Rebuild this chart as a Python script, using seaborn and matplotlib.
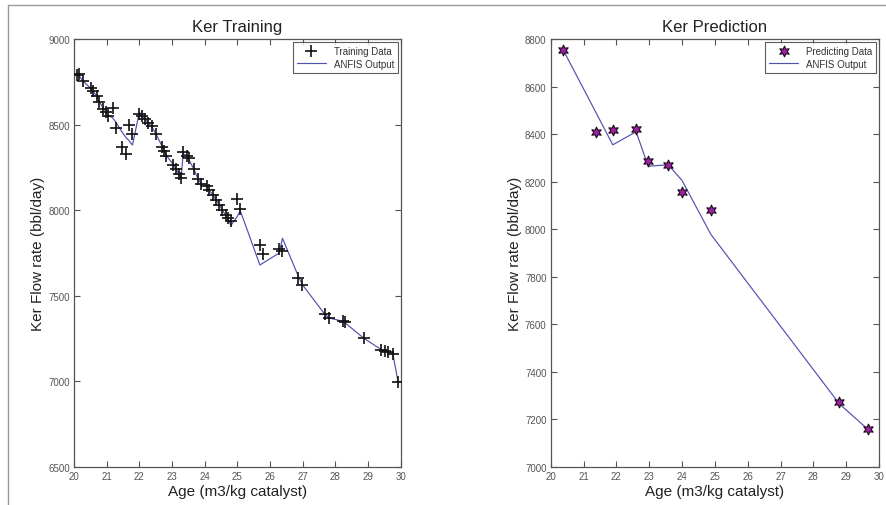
import matplotlib
matplotlib.use("Agg")
import matplotlib.pyplot as plt
from matplotlib.lines import Line2D
import seaborn as sns
import pandas as pd

# ---- Training data (left panel) ----
train_age = [20.08, 20.16, 20.27, 20.51, 20.59, 20.69, 20.77, 20.90, 20.98, 21.05,
             21.18, 21.28, 21.46, 21.59, 21.69, 21.79, 22.00, 22.07, 22.17, 22.27,
             22.38, 22.51, 22.68, 22.75, 22.83, 23.04, 23.12, 23.22, 23.28, 23.34,
             23.45, 23.53, 23.67, 23.80, 23.88, 24.06, 24.14, 24.25, 24.35, 24.45,
             24.54, 24.64, 24.72, 24.80, 25.00, 25.09, 25.69, 25.79, 26.28, 26.38,
             26.86, 26.99, 27.67, 27.81, 28.22, 28.29, 28.87, 29.41, 29.51, 29.61,
             29.76, 29.92]
train_flow = [8790, 8795, 8756, 8712, 8698, 8665, 8630, 8591, 8574, 8552,
              8595, 8478, 8367, 8328, 8498, 8445, 8562, 8552, 8533, 8509,
              8490, 8445, 8372, 8348, 8314, 8265, 8241, 8211, 8186, 8342,
              8318, 8303, 8241, 8180, 8156, 8140, 8118, 8090, 8061, 8033,
              8003, 7972, 7953, 7939, 8068, 8010, 7797, 7744, 7773, 7763,
              7602, 7563, 7394, 7369, 7355, 7345, 7252, 7185, 7179, 7173,
              7160, 6995]
train_anfis = [8790, 8785, 8756, 8712, 8695, 8665, 8635, 8595, 8575, 8555,
               8540, 8515, 8460, 8425, 8405, 8381, 8572, 8555, 8535, 8510,
               8488, 8445, 8380, 8350, 8318, 8268, 8240, 8210, 8185, 8330,
               8320, 8290, 8240, 8182, 8158, 8138, 8116, 8088, 8060, 8032,
               8002, 7970, 7950, 7910, 7965, 7997, 7680, 7692, 7750, 7836,
               7617, 7565, 7394, 7370, 7352, 7343, 7252, 7185, 7180, 7173,
               7160, 6995]

# ---- Prediction data (right panel) ----
pred_age = [20.38, 21.38, 21.89, 22.60, 22.97, 23.58, 24.00, 24.88, 28.79, 29.68]
pred_flow = [8754, 8409, 8416, 8420, 8285, 8271, 8158, 8081, 7273, 7160]
pred_anfis = [8754, 8490, 8355, 8410, 8265, 8271, 8205, 7978, 7266, 7156]

train_xticks = list(range(20, 31))
train_yticks = [6500, 7000, 7500, 8000, 8500, 9000]
pred_yticks = [7000, 7200, 7400, 7600, 7800, 8000, 8200, 8400, 8600, 8800]

sns.set_theme(style="white")
plt.rcParams['font.family'] = ['Liberation Sans', 'DejaVu Sans']

fig = plt.figure(figsize=(8.86, 5.06), dpi=100)
fig.patch.set_facecolor("white")
ax1 = fig.add_axes([0.0835, 0.0751, 0.3688, 0.8458])
ax2 = fig.add_axes([0.6216, 0.0751, 0.3705, 0.8458])

line_col = "#5050b0"

df_t = pd.DataFrame({"age": train_age, "flow": train_flow, "anfis": train_anfis})
df_p = pd.DataFrame({"age": pred_age, "flow": pred_flow, "anfis": pred_anfis})

sns.scatterplot(data=df_t, x="age", y="flow", ax=ax1, marker="+", color="#111111",
                s=85, linewidth=1.2, label="Training Data", zorder=3)
sns.lineplot(data=df_t, x="age", y="anfis", ax=ax1, color=line_col, lw=0.85,
             estimator=None, label="ANFIS Output", zorder=2)

star = (6, 1, 0)
sns.scatterplot(data=df_p, x="age", y="flow", ax=ax2, marker=star, color="#a020a8",
                edgecolor="#1a0a1a", s=60, linewidth=0.8, label="Predicting Data", zorder=3)
sns.lineplot(data=df_p, x="age", y="anfis", ax=ax2, color=line_col, lw=0.85,
             estimator=None, label="ANFIS Output", zorder=2)

def style(ax, title, yticks, ylim):
    ax.set_xlim(20, 30)
    ax.set_ylim(*ylim)
    ax.set_xticks(train_xticks)
    ax.set_yticks(yticks)
    ax.set_title(title, fontsize=12, color="#222222", pad=6)
    ax.set_xlabel("Age (m3/kg catalyst)", fontsize=11, color="#222222", labelpad=2)
    ax.set_ylabel("Ker Flow rate (bbl/day)", fontsize=11, color="#222222", labelpad=2)
    ax.tick_params(axis="both", which="both", direction="in", length=4, width=0.8,
                   top=True, right=True, bottom=True, left=True,
                   labelsize=7, labelcolor="#555555", color="#555555", pad=3)
    for s in ax.spines.values():
        s.set_color("#555555")
        s.set_linewidth(0.9)
    leg = ax.legend(loc="upper right", fontsize=7, frameon=True, fancybox=False,
                    borderpad=0.4, handlelength=3.0, labelspacing=0.3,
                    borderaxespad=0.3, handletextpad=0.8)
    leg.get_frame().set_edgecolor("#333333")
    leg.get_frame().set_linewidth(0.8)
    for t in leg.get_texts():
        t.set_color("#333333")

style(ax1, "Ker Training", train_yticks, (6500, 9000))
style(ax2, "Ker Prediction", pred_yticks, (7000, 8800))

# screenshot frame lines
fig.add_artist(Line2D([8/886, 1], [1 - 6/506, 1 - 6/506], transform=fig.transFigure,
                      color="#999999", lw=1.0))
fig.add_artist(Line2D([8/886, 8/886], [0, 1 - 6/506], transform=fig.transFigure,
                      color="#999999", lw=1.0))

fig.savefig("out.png", dpi=100, facecolor="white")
